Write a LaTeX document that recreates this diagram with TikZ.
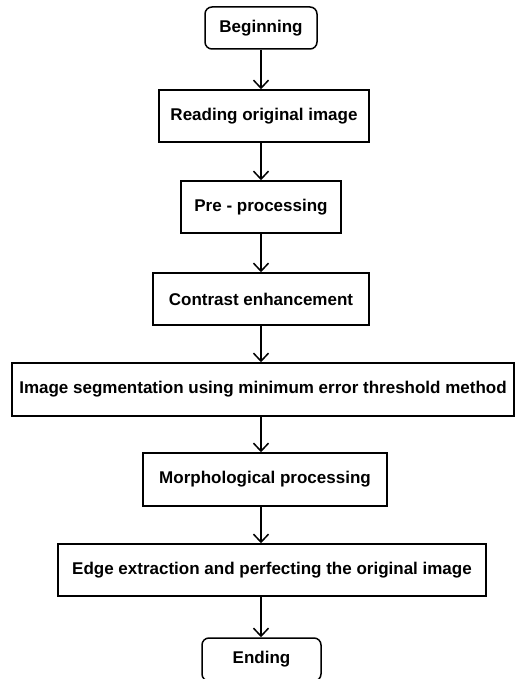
\documentclass[tikz,border=0pt]{standalone}
\usepackage{fontspec}
\setmainfont{Liberation Sans}
\usetikzlibrary{arrows.meta,positioning}
\tikzset{
  etapa/.style={draw=black, line width=1.5pt, fill=white, align=center,
                font=\fontsize{17}{20}\selectfont\bfseries, inner sep=0pt, minimum height=52pt},
  terminal/.style={etapa, rounded corners=7pt, minimum height=42pt},
  seta/.style={-{Straight Barb[length=8pt,width=15pt]}, line width=1.5pt, black},
}

\begin{document}
\begin{tikzpicture}[x=1pt,y=-1pt]
  \useasboundingbox (0,0) rectangle (520,679);

  % blocos do fluxograma
  \node[terminal, minimum width=112pt] (inicio) at (261,28) {Beginning};
  \node[etapa, minimum width=210pt] (leitura) at (264,116) {Reading original image};
  \node[etapa, minimum width=160pt] (preproc) at (261,207) {Pre - processing};
  \node[etapa, minimum width=216pt] (contraste) at (261,299) {Contrast enhancement};
  \node[etapa, minimum width=502pt, minimum height=53pt] (segment) at (263,389.5)
    {Image segmentation using minimum error threshold method};
  \node[etapa, minimum width=244pt, minimum height=53pt] (morfo) at (265,479.5) {Morphological processing};
  \node[etapa, minimum width=428pt] (borda) at (272,570) {Edge extraction and perfecting the original image};
  \node[terminal, minimum width=119pt, minimum height=43pt] (fim) at (261.5,659.5) {Ending};

  % setas entre etapas
  \foreach \a/\b in {inicio/leitura, leitura/preproc, preproc/contraste, contraste/segment,
                     segment/morfo, morfo/borda, borda/fim}{
    \draw[seta] (\a.south -| inicio) -- (inicio |- \b.north);
  }
\end{tikzpicture}
\end{document}
